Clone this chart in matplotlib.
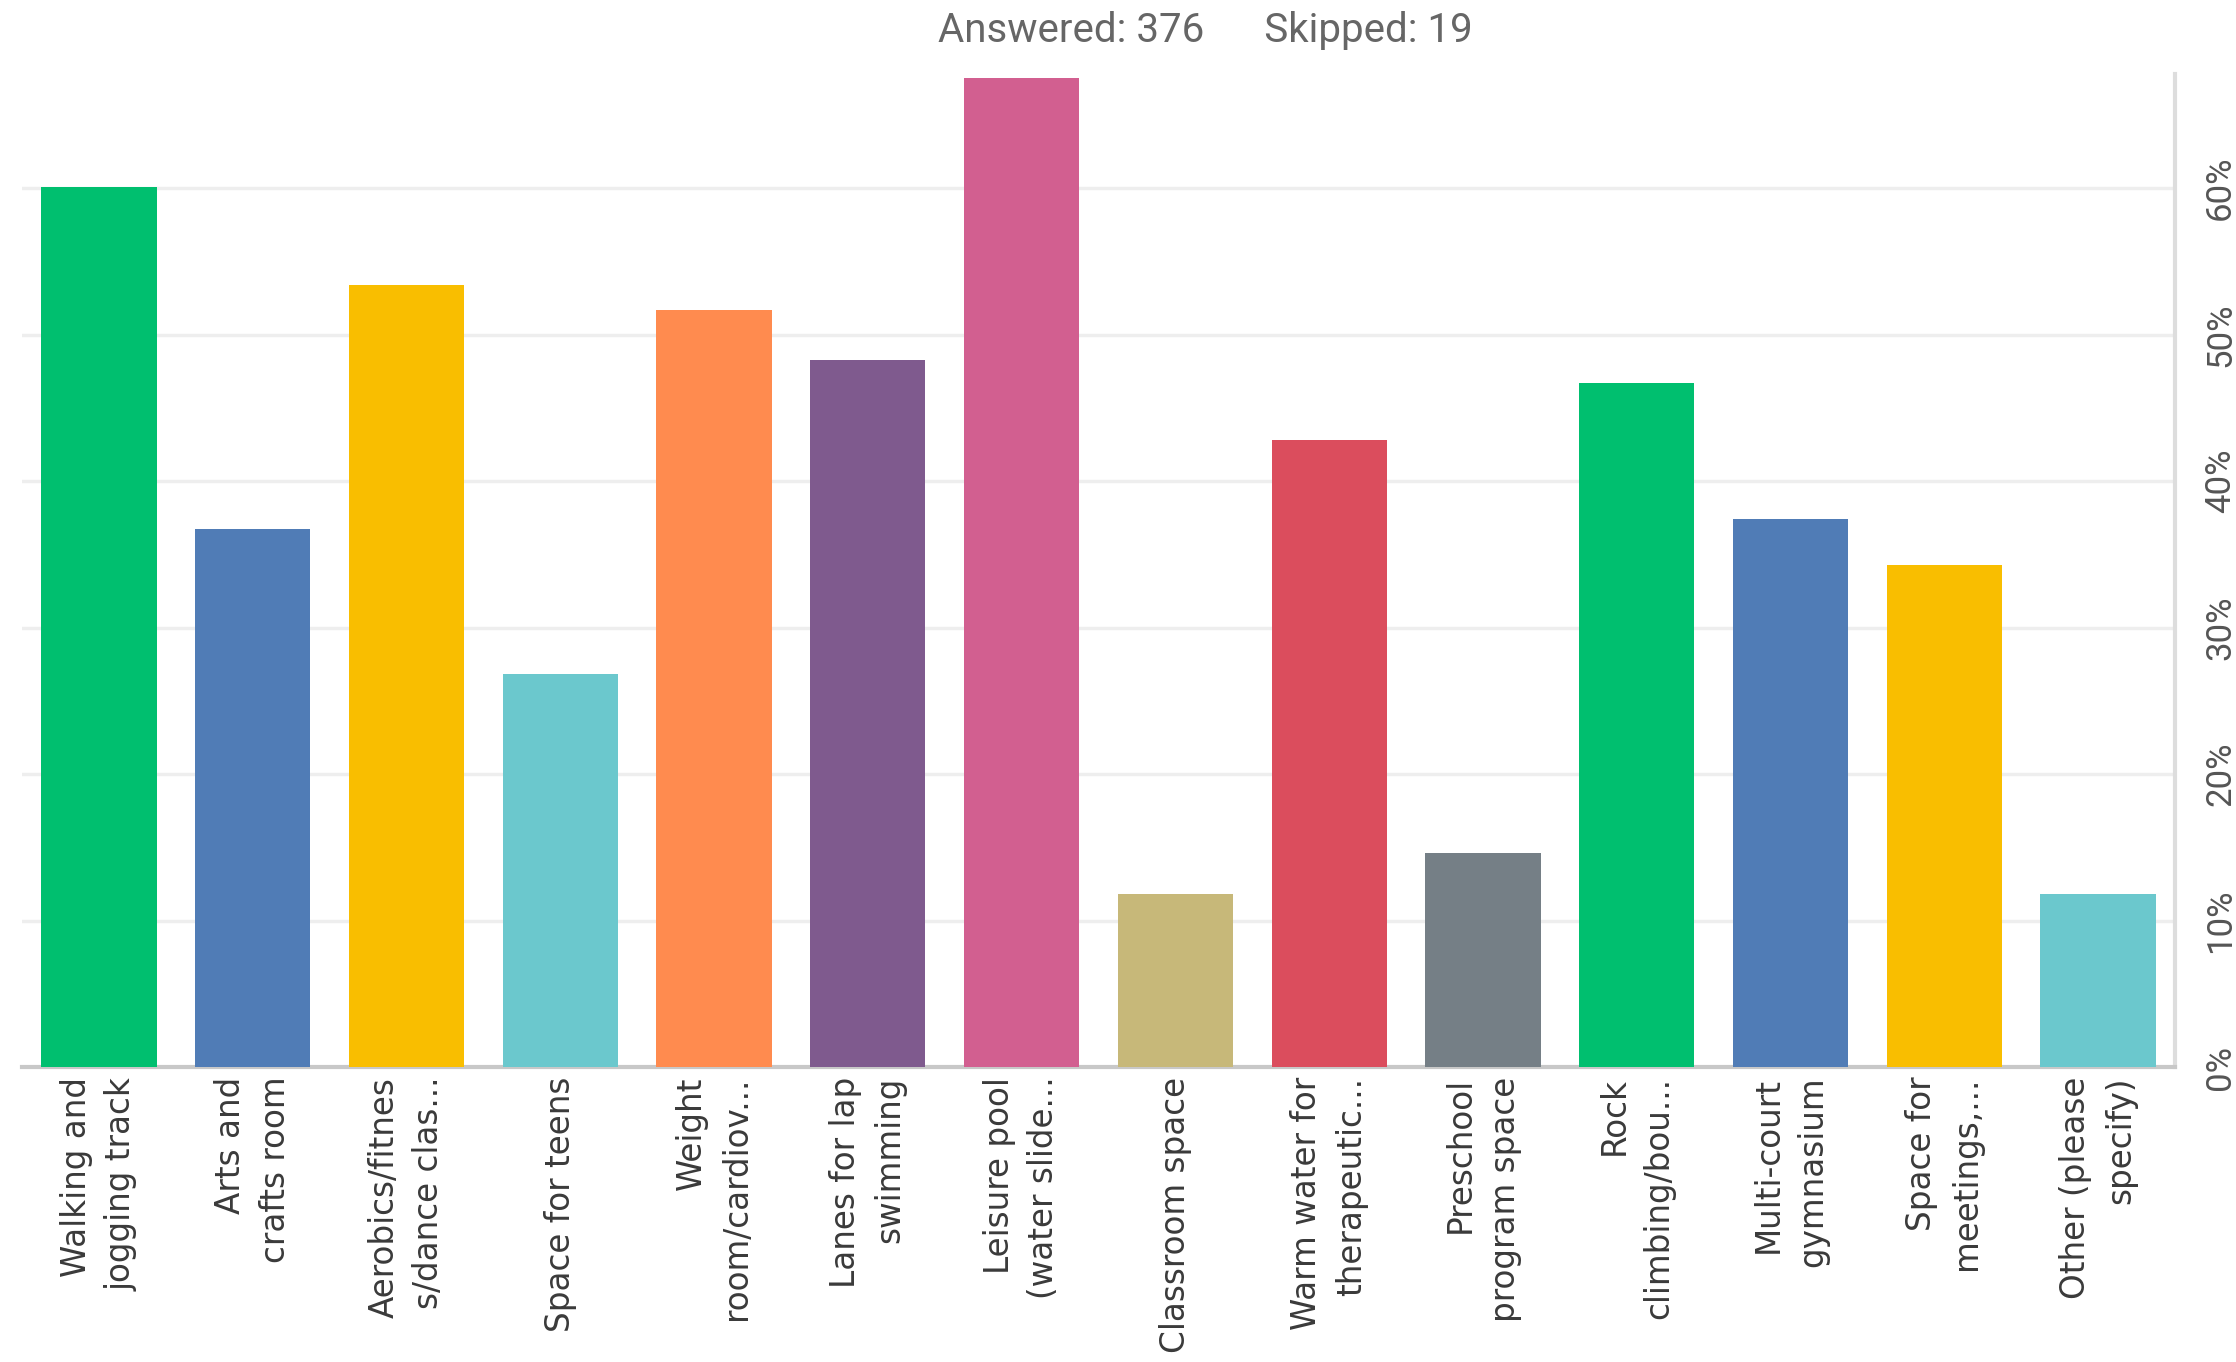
import matplotlib
matplotlib.use("Agg")
import matplotlib.pyplot as plt
from matplotlib.ticker import FuncFormatter

categories = [
    "Walking and\njogging track",
    "Arts and\ncrafts room",
    "Aerobics/fitnes\ns/dance clas...",
    "Space for teens",
    "Weight\nroom/cardiov...",
    "Lanes for lap\nswimming",
    "Leisure pool\n(water slide...",
    "Classroom space",
    "Warm water for\ntherapeutic...",
    "Preschool\nprogram space",
    "Rock\nclimbing/bou...",
    "Multi-court\ngymnasium",
    "Space for\nmeetings,...",
    "Other (please\nspecify)",
]
values = [60.1, 36.7, 53.4, 26.8, 51.7, 48.3, 67.5, 11.8, 42.8, 14.6, 46.7, 37.4, 34.3, 11.8]
colors = ["#00BF6F", "#507CB6", "#F9BE00", "#6BC8CD", "#FF8B4F", "#7F5A8E",
          "#D25F90", "#C7B879", "#DB4D5D", "#757F86", "#00BF6F", "#507CB6",
          "#F9BE00", "#6BC8CD"]
yticks = [0, 10, 20, 30, 40, 50, 60]
answered = 376
skipped = 19

fig = plt.figure(figsize=(22.36, 13.62), dpi=100)
ax = fig.add_axes([22 / 2236, 1 - 1067 / 1362, (2175 - 22) / 2236, (1067 - 74) / 1362])

x = list(range(len(categories)))
ax.bar(x, values, width=0.75, color=colors, zorder=3)
ax.set_xlim(-0.5, len(categories) - 0.5)
ax.set_ylim(0, 67.8)

ax.set_yticks(yticks)
ax.yaxis.set_major_formatter(FuncFormatter(lambda v, p: f"{int(v)}%"))
ax.yaxis.tick_right()
ax.tick_params(axis="y", length=0, pad=21, labelsize=25, labelcolor="#555555",
               labelrotation=90)
for lab in ax.get_yticklabels():
    lab.set_fontfamily("Roboto")
    lab.set_va("center")
ax.grid(axis="y", color="#eeeeee", linewidth=2.5, zorder=0)

ax.set_xticks(x)
ax.set_xticklabels(categories, rotation=90, ha="center", va="top",
                   multialignment="right", fontsize=23.5, color="#3a3a3a",
                   linespacing=1.45)
ax.tick_params(axis="x", length=0, pad=7)

for s in ["top", "left"]:
    ax.spines[s].set_visible(False)
ax.spines["bottom"].set_color("#c8c8c8")
ax.spines["bottom"].set_linewidth(3)
ax.spines["right"].set_color("#dddddd")
ax.spines["right"].set_linewidth(3)

fig.text(1205 / 2236, 1 - 31 / 1362, f"Answered: {answered}      Skipped: {skipped}",
         ha="center", va="center", fontsize=29, color="#666666", family="Roboto")

fig.savefig("out.png", dpi=100, facecolor="white")
